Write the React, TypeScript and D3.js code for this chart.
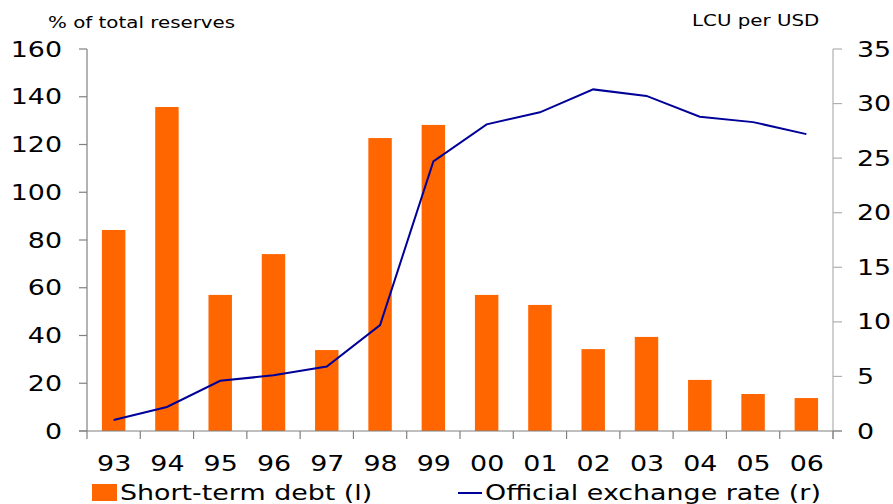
import React from "react";
import * as d3 from "d3";

const years = ["93","94","95","96","97","98","99","00","01","02","03","04","05","06"];
const shortTermDebt = [84.2, 135.7, 57, 74.1, 33.9, 122.7, 128.2, 57, 52.8, 34.3, 39.4, 21.4, 15.5, 13.8];
const exchangeRate = [1.0, 2.2, 4.6, 5.1, 5.9, 9.7, 24.7, 28.1, 29.2, 31.3, 30.7, 28.8, 28.3, 27.2];
const leftTicks = [0, 20, 40, 60, 80, 100, 120, 140, 160];
const rightTicks = [0, 5, 10, 15, 20, 25, 30, 35];

const W = 893, H = 504;
const left = 87, right = 833, top = 49, bottom = 431;
const font = "Verdana, 'DejaVu Sans', sans-serif";
const SX = 1.28;

function T({ x, y, anchor = "start", size = 21, dy, children }: { x: number; y: number; anchor?: string; size?: number; dy?: string; children: React.ReactNode }) {
  return (
    <g transform={`translate(${x},${y}) scale(${SX},1)`}>
      <text x={0} y={0} dy={dy} textAnchor={anchor as any} fontSize={size} fill="#000">{children}</text>
    </g>
  );
}

export default function App() {
  const x = d3.scaleBand<string>().domain(years).range([left, right]).paddingInner(0.56).paddingOuter(0.28);
  const band = d3.scaleBand<string>().domain(years).range([left, right]);
  const yL = d3.scaleLinear().domain([0, 160]).range([bottom, top]);
  const yR = d3.scaleLinear().domain([0, 35]).range([bottom, top]);
  const line = d3.line<number>().x((_, i) => band(years[i])! + band.bandwidth() / 2).y(d => yR(d));

  return (
    <svg width={W} height={H} style={{ position: "absolute", left: 0, top: 0, background: "#fff" }} fontFamily={font}>
      <T x={48} y={28} size={15.5}>% of total reserves</T>
      <T x={692} y={26} size={15.5}>LCU per USD</T>

      {shortTermDebt.map((v, i) => (
        <rect key={i} x={x(years[i])} y={yL(v)} width={x.bandwidth()} height={yL(0) - yL(v)} fill="#FF6600" />
      ))}

      <path d={line(exchangeRate) || ""} fill="none" stroke="#000099" strokeWidth={2} />

      {/* left axis */}
      <line x1={left} x2={left} y1={top} y2={bottom + 8} stroke="#808080" strokeWidth={1.2} />
      {leftTicks.map(t => (
        <g key={t}>
          <line x1={left - 8} x2={left} y1={yL(t)} y2={yL(t)} stroke="#808080" strokeWidth={1.2} />
          <T x={62} y={yL(t)} dy="0.36em" anchor="end">{t}</T>
        </g>
      ))}

      {/* right axis */}
      <line x1={right} x2={right} y1={top} y2={bottom + 8} stroke="#b0b0b0" strokeWidth={1.2} />
      {rightTicks.map(t => (
        <g key={t}>
          <line x1={right} x2={right + 9} y1={yR(t)} y2={yR(t)} stroke="#b0b0b0" strokeWidth={1.2} />
          <T x={857} y={yR(t)} dy="0.36em">{t}</T>
        </g>
      ))}

      {/* x axis */}
      <line x1={left - 8} x2={right + 9} y1={bottom} y2={bottom} stroke="#808080" strokeWidth={1.2} />
      {years.map(yv => (
        <g key={yv}>
          <line x1={band(yv)! + band.bandwidth()} x2={band(yv)! + band.bandwidth()} y1={bottom} y2={bottom + 8} stroke="#808080" strokeWidth={1.2} />
          <T x={band(yv)! + band.bandwidth() / 2 + 0.5} y={471} anchor="middle">{yv}</T>
        </g>
      ))}

      {/* legend */}
      <rect x={92} y={484} width={25} height={17} fill="#FF6600" />
      <T x={120} y={500}>Short-term debt (l)</T>
      <line x1={458} x2={482} y1={493} y2={493} stroke="#000099" strokeWidth={2} />
      <T x={485} y={500}>Official exchange rate (r)</T>
    </svg>
  );
}
